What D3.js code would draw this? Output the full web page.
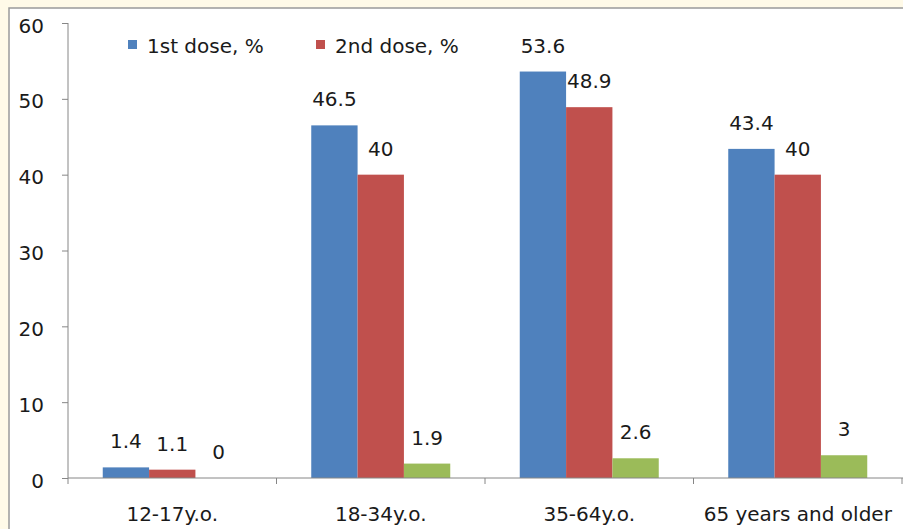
<!DOCTYPE html>
<html>
<head>
<meta charset="utf-8">
<script src="https://cdn.jsdelivr.net/npm/d3@7"></script>
<style>
  html, body { margin: 0; padding: 0; background: #fffae8; }
  svg { display: block; }
  text { font-family: "DejaVu Sans", sans-serif; fill: #1a1a1a; }
</style>
</head>
<body>
<svg id="chart" width="903" height="529"></svg>
<script>
// chart data
var categories = ["12-17y.o.", "18-34y.o.", "35-64y.o.", "65 years and older"];
var seriesNames = ["1st dose, %", "2nd dose, %", "3rd dose, %"];
var firstDose = [1.4, 46.5, 53.6, 43.4];
var secondDose = [1.1, 40, 48.9, 40];
var thirdDose = [0, 1.9, 2.6, 3];
var yTicks = [0, 10, 20, 30, 40, 50, 60];
var colors = ["#4f81bd", "#c0504d", "#9bbb59"];
var legendNames = seriesNames.slice(0, 2);   // only two shown in the picture

var allSeries = [firstDose, secondDose, thirdDose];

var svg = d3.select("#chart");
var margin = {l: 68, t: 23, r: 902, b: 478};

// white plot panel with the grey frame
svg.append("rect")
    .attr("x", 9).attr("y", 8)
    .attr("width", 910).attr("height", 540)
    .attr("fill", "#ffffff")
    .attr("stroke", "#9a9a9a")
    .attr("stroke-width", 1.5);

var x0 = d3.scaleBand()
    .domain(categories)
    .range([margin.l, margin.r])
    .padding(0);

var bw = x0.bandwidth();
var barW = bw / 4.5;           // gap width 150%
var gap = bw - 3 * barW;

var x1 = d3.scaleBand()
    .domain(d3.range(seriesNames.length))
    .range([gap / 2, bw - gap / 2])
    .padding(0);

var y = d3.scaleLinear()
    .domain([0, 60])
    .range([margin.b, margin.t]);

// y axis
var yAxis = d3.axisLeft(y).tickValues(yTicks).tickSize(6).tickPadding(18);
var gy = svg.append("g")
    .attr("transform", "translate(" + margin.l + ",0)")
    .call(yAxis);
gy.selectAll("text").attr("font-size", 20).attr("font-family", "DejaVu Sans, sans-serif")
    .attr("fill", "#1a1a1a").attr("dy", "0.45em");
gy.selectAll("line").attr("stroke", "#868686");
gy.select(".domain").attr("stroke", "#868686").attr("d", "M0," + margin.t + "V" + margin.b);

// bars
var groups = svg.selectAll(".grp")
    .data(categories)
    .enter().append("g")
    .attr("class", "grp")
    .attr("transform", function(d) { return "translate(" + x0(d) + ",0)"; });

groups.each(function(cat, ci) {
    var g = d3.select(this);
    var vals = allSeries.map(function(s, si) { return {si: si, v: s[ci]}; });
    g.selectAll("rect")
        .data(vals)
        .enter().append("rect")
        .attr("x", function(d) { return x1(d.si); })
        .attr("y", function(d) { return y(d.v); })
        .attr("width", x1.bandwidth())
        .attr("height", function(d) { return y(0) - y(d.v); })
        .attr("fill", function(d) { return colors[d.si]; });
    g.selectAll("text.val")
        .data(vals)
        .enter().append("text")
        .attr("class", "val")
        .attr("x", function(d) { return x1(d.si) + x1.bandwidth() / 2; })
        .attr("y", function(d) { return y(d.v) - 19; })
        .attr("text-anchor", "middle")
        .attr("font-size", 20)
        .text(function(d) { return d.v; });
});

// x axis
var xAxis = d3.axisBottom(x0).tickSize(0).tickPadding(29);
var gx = svg.append("g")
    .attr("transform", "translate(0," + margin.b + ")")
    .call(xAxis);
gx.selectAll("text").attr("font-size", 20).attr("font-family", "DejaVu Sans, sans-serif").attr("fill", "#1a1a1a");
gx.select(".domain").attr("stroke", "#868686").attr("d", "M" + margin.l + ",0H903");
// boundary ticks between categories
gx.selectAll(".bound")
    .data(categories.slice(1).concat(["end"]))
    .enter().append("line")
    .attr("class", "bound")
    .attr("x1", function(d, i) { return margin.l + (i + 1) * bw; })
    .attr("x2", function(d, i) { return margin.l + (i + 1) * bw; })
    .attr("y1", 0).attr("y2", 6)
    .attr("stroke", "#868686");
gx.append("line")
    .attr("x1", margin.l).attr("x2", margin.l)
    .attr("y1", 0).attr("y2", 6)
    .attr("stroke", "#868686");

// legend
var legendX = [128, 316];
var legend = svg.selectAll(".leg")
    .data(legendNames)
    .enter().append("g")
    .attr("class", "leg")
    .attr("transform", function(d, i) { return "translate(" + legendX[i] + ",40)"; });
legend.append("rect")
    .attr("width", 9).attr("height", 9)
    .attr("fill", function(d, i) { return colors[i]; });
legend.append("text")
    .attr("x", 19).attr("y", 13)
    .attr("font-size", 20)
    .text(function(d) { return d; });
</script>
</body>
</html>
